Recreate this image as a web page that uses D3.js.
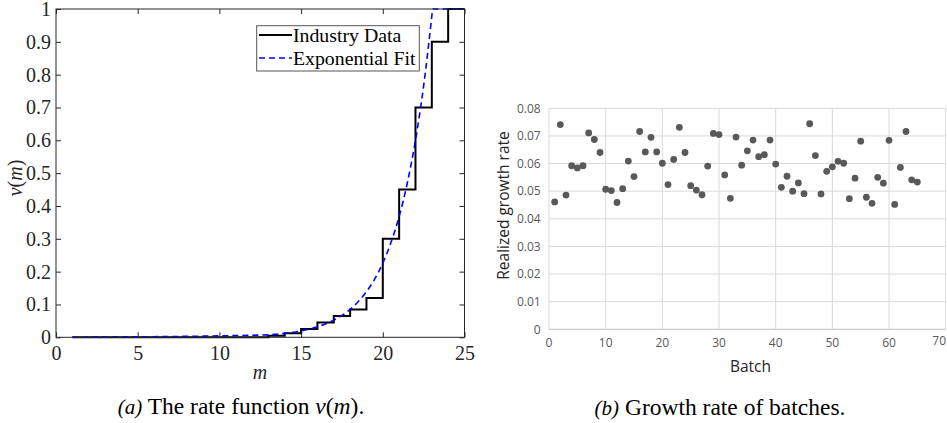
<!DOCTYPE html>
<html><head><meta charset="utf-8">
<script src="https://cdn.jsdelivr.net/npm/d3@7"></script>
<style>body{margin:0;background:#fff}svg{display:block}</style>
</head><body>
<svg id="c" width="947" height="423"></svg>
<script>
// ---- Panel (a) data ----
const stepM = [1,2,3,4,5,6,7,8,9,10,11,12,13,14,15,16,17,18,19,20,21,22,23,24,25];
const stepV = [0,0,0,0,0,0,0,0,0,0,0,0,0.005,0.012,0.025,0.045,0.065,0.085,0.12,0.30,0.45,0.70,0.90,1.0,1.0];
const fitM = [1,13,13.5,14,14.5,15,15.5,16,16.5,17,17.5,18,18.5,19,19.5,20,20.5,21,21.5,22,22.5,23,23.05,25];
const fitV = [0,0.0074,0.0094,0.012,0.0153,0.0196,0.025,0.032,0.0408,0.0522,0.0666,0.0851,0.109,0.139,0.177,0.226,0.289,0.368,0.47,0.60,0.766,0.978,1.0,1.0];
const aXTicks = [0,5,10,15,20,25];
const aYTicks = [0,0.1,0.2,0.3,0.4,0.5,0.6,0.7,0.8,0.9,1];
const legendLabels = ["Industry Data","Exponential Fit"];

// ---- Panel (b) data ----
const batch = d3.range(1,66);
const growth = [0.0461,0.0741,0.0486,0.0592,0.0584,0.0592,0.0711,0.0687,0.0640,0.0507,
0.0502,0.0459,0.0509,0.0609,0.0553,0.0716,0.0642,0.0695,0.0642,0.0601,
0.0524,0.0615,0.0731,0.0640,0.0520,0.0504,0.0487,0.0591,0.0709,0.0705,
0.0559,0.0474,0.0696,0.0594,0.0646,0.0685,0.0625,0.0632,0.0685,0.0598,
0.0514,0.0554,0.0500,0.0530,0.0491,0.0744,0.0629,0.0490,0.0572,0.0588,
0.0608,0.0601,0.0473,0.0547,0.0681,0.0478,0.0456,0.0550,0.0529,0.0684,
0.0452,0.0586,0.0716,0.0541,0.0533];
const bXTicks = [0,10,20,30,40,50,60,70];
const bYTicks = [0,0.01,0.02,0.03,0.04,0.05,0.06,0.07,0.08];

const svg = d3.select("#c");
const serif = "'Liberation Serif','Times New Roman',serif";
const sans = "'Open Sans',sans-serif";

// ================= Panel (a) =================
const ax = d3.scaleLinear().domain([0,25]).range([56,464.5]);
const ay = d3.scaleLinear().domain([0,1]).range([337.3,9]);
const ga = svg.append("g");
const axisCol = "#262626";

const stepData = stepM.map((m,i)=>[m,stepV[i]]);
const fitData = fitM.map((m,i)=>[m,fitV[i]]);
ga.append("path").datum(stepData)
  .attr("d", d3.line().x(d=>ax(d[0])).y(d=>ay(d[1])).curve(d3.curveStepAfter))
  .attr("fill","none").attr("stroke","#000").attr("stroke-width",2);
ga.append("path").datum(fitData)
  .attr("d", d3.line().x(d=>ax(d[0])).y(d=>ay(d[1])).curve(d3.curveMonotoneX))
  .attr("fill","none").attr("stroke","#0000ff").attr("stroke-width",1.6)
  .attr("stroke-dasharray","6,4");

ga.append("rect").attr("x",ax(0)).attr("y",ay(1)).attr("width",ax(25)-ax(0)).attr("height",ay(0)-ay(1))
  .attr("fill","none").attr("stroke",axisCol).attr("stroke-width",1);

const tl = 5;
ga.append("g").attr("transform",`translate(0,${ay(0)})`)
  .call(d3.axisBottom(ax).tickValues(aXTicks).tickSize(-tl).tickPadding(8).tickFormat(d3.format("d")))
  .call(g=>{g.select(".domain").remove();g.selectAll("line").attr("stroke",axisCol);
    g.selectAll("text").attr("font-family",serif).attr("font-size",20).attr("fill",axisCol).attr("dy","0.75em");});
ga.append("g").attr("transform",`translate(0,${ay(1)})`)
  .call(d3.axisTop(ax).tickValues(aXTicks).tickSize(-tl).tickFormat(""))
  .call(g=>{g.select(".domain").remove();g.selectAll("line").attr("stroke",axisCol);});
ga.append("g").attr("transform",`translate(${ax(0)},0)`)
  .call(d3.axisLeft(ay).tickValues(aYTicks).tickSize(-tl).tickPadding(5).tickFormat(d=>d===0?"0":d===1?"1":d3.format(".1f")(d)))
  .call(g=>{g.select(".domain").remove();g.selectAll("line").attr("stroke",axisCol);
    g.selectAll("text").attr("font-family",serif).attr("font-size",20).attr("fill",axisCol);});
ga.append("g").attr("transform",`translate(${ax(25)},0)`)
  .call(d3.axisRight(ay).tickValues(aYTicks).tickSize(-tl).tickFormat(""))
  .call(g=>{g.select(".domain").remove();g.selectAll("line").attr("stroke",axisCol);});

ga.append("text").attr("x",260).attr("y",379).attr("text-anchor","middle")
  .attr("font-family",serif).attr("font-size",20).attr("font-style","italic").attr("fill",axisCol).text("m");
const yl = ga.append("text").attr("transform","translate(22,178) rotate(-90)").attr("text-anchor","middle")
  .attr("font-family",serif).attr("font-size",20).attr("fill",axisCol);
yl.append("tspan").attr("font-style","italic").text("ν");
yl.append("tspan").text("(");
yl.append("tspan").attr("font-style","italic").text("m");
yl.append("tspan").text(")");

const lg = ga.append("g");
lg.append("rect").attr("x",256.7).attr("y",25.7).attr("width",162.6).attr("height",45.3)
  .attr("fill","#fff").attr("stroke","#555").attr("stroke-width",1);
const legY = [35,58];
lg.append("line").attr("x1",259).attr("x2",292).attr("y1",legY[0]).attr("y2",legY[0]).attr("stroke","#000").attr("stroke-width",2);
lg.append("line").attr("x1",259).attr("x2",292).attr("y1",legY[1]).attr("y2",legY[1]).attr("stroke","#0000ff").attr("stroke-width",1.6).attr("stroke-dasharray","6,4");
legendLabels.forEach((t,i)=>{
  lg.append("text").attr("x",293).attr("y",legY[i]).attr("dy","0.35em")
    .attr("font-family",serif).attr("font-size",19.8).attr("fill","#000").text(t);
});

const ca = svg.append("text").attr("x",241).attr("y",414).attr("text-anchor","middle")
  .attr("font-family",serif).attr("font-size",23.5).attr("fill","#000");
ca.append("tspan").attr("font-style","italic").attr("font-size",21).text("(a)");
ca.append("tspan").text(" The rate function ");
ca.append("tspan").attr("font-style","italic").text("ν");
ca.append("tspan").text("(");
ca.append("tspan").attr("font-style","italic").text("m");
ca.append("tspan").text(").");

// ================= Panel (b) =================
const bx = d3.scaleLinear().domain([0,70]).range([549,945.7]);
const by = d3.scaleLinear().domain([0,0.08]).range([329.3,108.3]);
const gb = svg.append("g");

gb.append("g").selectAll("line").data(bYTicks).join("line")
  .attr("x1",bx(0)).attr("x2",bx(70)).attr("y1",d=>by(d)).attr("y2",d=>by(d))
  .attr("stroke",d=>d===0?"#bfbfbf":"#d9d9d9").attr("stroke-width",1);
gb.append("g").selectAll("line").data(bXTicks).join("line")
  .attr("x1",d=>bx(d)).attr("x2",d=>bx(d)).attr("y1",by(0)).attr("y2",by(0.08))
  .attr("stroke","#d9d9d9").attr("stroke-width",1);

gb.append("g").selectAll("text").data(bYTicks).join("text")
  .attr("x",540.7).attr("y",d=>by(d)).attr("dy","0.35em").attr("text-anchor","end")
  .attr("font-family",sans).attr("font-size",12).attr("fill","#595959")
  .text(d=>d===0?"0":d3.format(".2f")(d));
gb.append("g").selectAll("text").data(bXTicks).join("text")
  .attr("x",d=>d===70?946:bx(d)).attr("y",d=>d===70?341:343).attr("dy","0.35em")
  .attr("text-anchor",d=>d===70?"end":"middle")
  .attr("font-family",sans).attr("font-size",12).attr("fill","#595959")
  .text(d=>d);

gb.append("text").attr("x",750.5).attr("y",367).attr("dy","0.35em").attr("text-anchor","middle")
  .attr("font-family",sans).attr("font-size",15.5).attr("fill","#262626").text("Batch");
gb.append("text").attr("transform","translate(504,205.5) rotate(-90)").attr("dy","0.35em").attr("text-anchor","middle")
  .attr("font-family",sans).attr("font-size",15.5).attr("fill","#262626").text("Realized growth rate");

gb.append("g").selectAll("circle").data(batch).join("circle")
  .attr("cx",(d)=>bx(d)).attr("cy",(d,i)=>by(growth[i])).attr("r",3.4).attr("fill","#595959");

const cb = svg.append("text").attr("x",720).attr("y",415).attr("text-anchor","middle")
  .attr("font-family",serif).attr("font-size",23.5).attr("fill","#000");
cb.append("tspan").attr("font-style","italic").attr("font-size",21).text("(b)");
cb.append("tspan").text(" Growth rate of batches.");
</script>
</body></html>
